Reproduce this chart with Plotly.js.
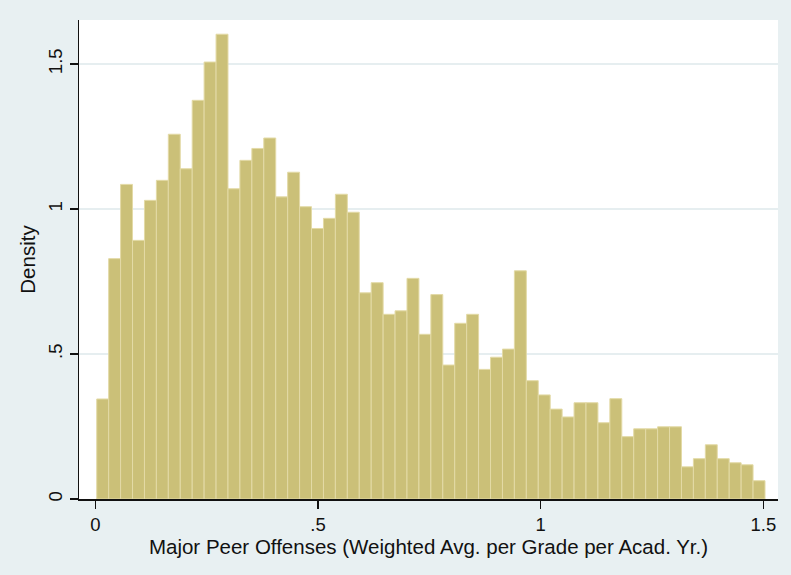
<!DOCTYPE html>
<html>
<head>
<meta charset="utf-8">
<script src="https://cdn.plot.ly/plotly-3.0.1.min.js"></script>
<style>
  html, body { margin: 0; padding: 0; background: #e8f0f2; }
  #chart { width: 791px; height: 575px; }
</style>
</head>
<body>
<div id="chart"></div>
<script>
// histogram bins (density)
var binStart = 0.003;
var binWidth = 0.0268;
var density = [
  0.345, 0.829, 1.085, 0.892, 1.030, 1.099, 1.258, 1.139, 1.375, 1.507,
  1.603, 1.070, 1.168, 1.209, 1.245, 1.042, 1.127, 1.008, 0.933, 0.968,
  1.051, 0.989, 0.711, 0.746, 0.637, 0.649, 0.761, 0.568, 0.705, 0.462,
  0.606, 0.637, 0.447, 0.489, 0.517, 0.787, 0.408, 0.359, 0.310, 0.283,
  0.332, 0.332, 0.263, 0.346, 0.215, 0.242, 0.242, 0.249, 0.249, 0.111,
  0.139, 0.187, 0.139, 0.125, 0.118, 0.063
];
var xTickVals = [0, 0.5, 1, 1.5];
var xTickText = ['0', '.5', '1', '1.5'];
var yTickVals = [0, 0.5, 1, 1.5];
var yTickText = ['0', '.5', '1', '1.5'];

var centers = density.map(function (d, i) { return binStart + (i + 0.5) * binWidth; });

var trace = {
  type: 'bar',
  x: centers,
  y: density,
  width: binWidth,
  marker: { color: '#cbc078', line: { color: '#e3daa6', width: 1 } },
  hoverinfo: 'x+y'
};

var layout = {
  width: 791,
  height: 575,
  margin: { l: 79, r: 13, t: 20, b: 76 },
  paper_bgcolor: '#e8f0f2',
  plot_bgcolor: '#ffffff',
  font: { family: 'Liberation Sans, Arial, sans-serif', size: 18, color: '#111' },
  showlegend: false,
  bargap: 0,
  xaxis: {
    range: [-0.0368, 1.533],
    tickvals: xTickVals,
    ticktext: xTickText,
    tickfont: { size: 18.5 },
    ticks: 'outside',
    ticklen: 8,
    tickwidth: 1.5,
    tickcolor: '#111',
    showline: true,
    linecolor: '#111',
    linewidth: 1.5,
    showgrid: false,
    zeroline: false,
    title: { text: 'Major Peer Offenses (Weighted Avg. per Grade per Acad. Yr.)', font: { size: 20.5 }, standoff: 2 }
  },
  yaxis: {
    range: [0, 1.652],
    tickvals: yTickVals,
    ticktext: yTickText,
    tickfont: { size: 18.5 },
    tickangle: -90,
    ticks: 'outside',
    ticklen: 8,
    tickwidth: 1.5,
    tickcolor: '#111',
    showline: true,
    linecolor: '#111',
    linewidth: 1.5,
    showgrid: true,
    gridcolor: '#e6eef0',
    gridwidth: 1.5,
    zeroline: false,
    title: { text: 'Density', font: { size: 20.5 }, standoff: 4 }
  }
};

Plotly.newPlot('chart', [trace], layout, { displayModeBar: false, staticPlot: true });
</script>
</body>
</html>
